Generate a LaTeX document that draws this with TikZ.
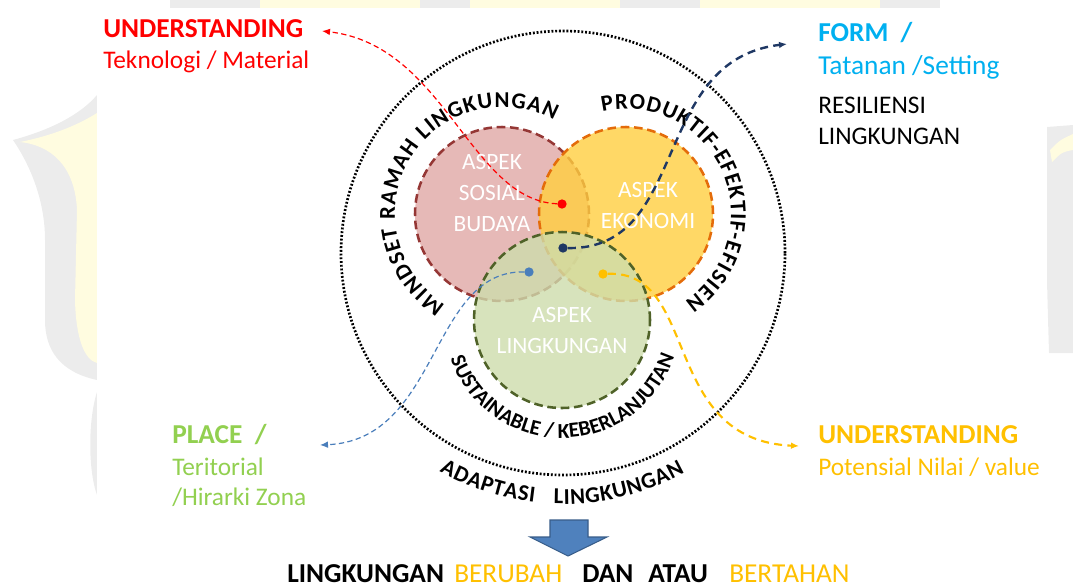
\documentclass[tikz,border=0pt]{standalone}
\usepackage{fontspec}
\setmainfont{Carlito}
\usetikzlibrary{arrows.meta,decorations.text}

\definecolor{sosial}{RGB}{224,168,166}
\definecolor{sosialline}{RGB}{149,55,53}
\definecolor{ekonomi}{RGB}{255,207,64}
\definecolor{ekonomiline}{RGB}{228,108,10}
\definecolor{lingk}{RGB}{205,221,172}
\definecolor{lingkline}{RGB}{79,98,40}
\definecolor{formblue}{RGB}{0,176,240}
\definecolor{placegreen}{RGB}{146,208,80}
\definecolor{gold}{RGB}{255,192,0}
\definecolor{navy}{RGB}{31,56,100}
\definecolor{steel}{RGB}{74,126,187}
\definecolor{steelfill}{RGB}{79,129,189}
\definecolor{steelline}{RGB}{56,93,138}
\definecolor{wmgray}{RGB}{236,236,236}
\definecolor{wmyellow}{RGB}{255,252,224}

\newcommand{\arcfont}{\bfseries\fontsize{17}{17}\selectfont}
\newcommand{\arcfontsmall}{\bfseries\fontsize{16}{16}\selectfont}

\begin{document}
\begin{tikzpicture}[x=0.75pt,y=0.75pt,
    aspek/.style={line width=1.9pt, dash pattern=on 6.5pt off 3.5pt, fill opacity=0.8},
    aspektext/.style={white, align=center, inner sep=0pt, font=\fontsize{17.5}{23.25}\selectfont},
    dot/.style={circle, fill=#1, inner sep=0pt, minimum size=7pt},
    conn/.style={-{Latex[length=6pt,width=5pt]}},
    head/.style={anchor=base west, inner sep=0pt, font=\bfseries\fontsize{20.5}{24}\selectfont},
    sub/.style={anchor=base west, inner sep=0pt, font=\fontsize{19}{23}\selectfont},
    arclabel/.style={decorate, decoration={text along path, text align=fit to path, text={#1}}}]
    \useasboundingbox (0,0) rectangle (1073,-587);

    % faded logo behind the slide
    \begin{scope}
    \clip (0,0) rectangle (1073,-8);
    \foreach \a/\b/\c in {170/260/wmgray, 260/420/wmyellow, 420/470/wmgray, 470/620/wmyellow, 620/700/wmgray, 700/880/wmyellow, 880/940/wmgray} {
    \fill[\c] (\a,0) rectangle (\b,-8);
    }
    \end{scope}
    \fill[wmgray] (13,-140) .. controls (50,-130) and (80,-115) .. (97,-95) -- (97,-380) .. controls (60,-372) and (45,-350) .. (45,-320) -- (45,-240) .. controls (45,-200) and (30,-165) .. (13,-140) -- cycle;
    \fill[wmyellow] (20,-142) .. controls (50,-145) and (75,-165) .. (77,-210) -- (75,-300) .. controls (76,-340) and (85,-360) .. (97,-363) -- (97,-113) .. controls (70,-130) and (40,-138) .. (20,-142) -- cycle;
    \fill[wmgray] (97,-392) .. controls (88,-420) and (88,-470) .. (97,-495) -- cycle;
    \fill[wmgray] (1047,-127) .. controls (1060,-126) .. (1073,-125) -- (1073,-353) -- (1049,-353) .. controls (1046,-250) .. (1047,-127) -- cycle;
    \fill[wmyellow] (1050,-150) .. controls (1060,-140) .. (1073,-134) -- (1073,-150) .. controls (1062,-152) .. (1052,-162) -- cycle;
    \fill[white] (97,-8) rectangle (1047,-587);

    \coordinate (cOuter) at (563,-253);
    \coordinate (cSosial) at (502,-214);
    \coordinate (cEkonomi) at (626,-214);
    \coordinate (cLingk) at (562,-320);

    \draw[line width=2pt, dash pattern=on 1.4pt off 1.4pt] (cOuter) circle[radius=222];

    \filldraw[aspek, fill=sosial, draw=sosialline] (cSosial) circle[radius=87];
    \filldraw[aspek, fill=ekonomi, draw=ekonomiline] (cEkonomi) circle[radius=87];
    \filldraw[aspek, fill=lingk, draw=lingkline] (cLingk) circle[radius=88];

    \node[aspektext] (tSosial) at (492,-193) {ASPEK\\SOSIAL\\BUDAYA};
    \node[aspektext] (tEkonomi) at (648,-205) {ASPEK\\EKONOMI};
    \node[aspektext] (tLingk) at (562,-331) {ASPEK\\LINGKUNGAN};

    \path[arclabel={|\arcfont|MINDSET RAMAH LINGKUNGAN}] (cSosial) ++(238:107) arc[start angle=238, end angle=61, radius=107];
    \path[arclabel={|\arcfont|PRODUKTIF-EFEKTIF-EFISIEN}] (cEkonomi) ++(103:105) arc[start angle=103, end angle=-56, radius=105];
    \path[arclabel={|\arcfontsmall|SUSTAINABLE / KEBERLANJUTAN}] (cLingk) ++(199:118) arc[start angle=199, end angle=342, radius=118];
    \path[arclabel={|\arcfont|ADAPTASI {\hspace{9pt}}LINGKUNGAN}] (cOuter) ++(240.5:251) arc[start angle=240.5, end angle=299, radius=251];

    \node[head, red] (ustRed) at (103,-37) {UNDERSTANDING};
    \node[sub, red] (tekno) at (103,-68) {Teknologi / Material};
    \node[head, formblue] (form) at (818,-41) {FORM\ \ /};
    \node[sub, formblue, font=\fontsize{20.5}{24}\selectfont] (tatanan) at (818,-74) {Tatanan /Setting};
    \node[sub] (resil) at (818,-113) {RESILIENSI};
    \node[sub] (resilL) at (818,-144) {LINGKUNGAN};
    \node[head, placegreen] (place) at (172,-443) {PLACE\ \ /};
    \node[sub, placegreen] (terit) at (172,-475) {Teritorial};
    \node[sub, placegreen] (zona) at (172,-505) {/Hirarki Zona};
    \node[head, gold] (ustGold) at (818,-443) {UNDERSTANDING};
    \node[sub, gold] (nilai) at (818,-475) {Potensial Nilai / value};

    \node[dot=red] (dRed) at (562,-204) {};
    \node[dot=navy] (dNavy) at (563,-248) {};
    \node[dot=steel] (dBlue) at (529,-272) {};
    \node[dot=gold] (dGold) at (603,-274) {};
    \coordinate (tipRed) at (322,-31);
    \coordinate (tipNavy) at (787,-44);
    \coordinate (tipBlue) at (320,-445);
    \coordinate (tipGold) at (799,-446);

    \draw[conn, red, line width=0.9pt, dash pattern=on 4pt off 2.5pt] (dRed) .. controls (470,-200) and (445,-45) .. (tipRed);
    \draw[conn, navy, line width=1.8pt, dash pattern=on 6pt off 4pt] (dNavy) .. controls (690,-250) and (650,-60) .. (tipNavy);
    \draw[conn, steel, line width=0.9pt, dash pattern=on 4pt off 2.5pt] (dBlue) .. controls (430,-270) and (440,-440) .. (tipBlue);
    \draw[conn, gold, line width=1.6pt, dash pattern=on 6pt off 4pt] (dGold) .. controls (700,-270) and (660,-440) .. (tipGold);

    \filldraw[fill=steelfill, draw=steelline, line width=0.8pt] (550,-520) -- (588,-520) -- (588,-537) -- (607,-537) -- (568,-556) -- (530,-537) -- (550,-537) -- cycle;

    \node[head] (botA) at (287,-582) {LINGKUNGAN};
    \node[sub, gold, font=\fontsize{20.5}{24}\selectfont] (botB) at (454,-582) {BERUBAH};
    \node[head] (botC) at (582,-582) {DAN};
    \node[head] (botD) at (648,-582) {ATAU};
    \node[sub, gold, font=\fontsize{20.5}{24}\selectfont] (botE) at (729,-582) {BERTAHAN};
\end{tikzpicture}
\end{document}
